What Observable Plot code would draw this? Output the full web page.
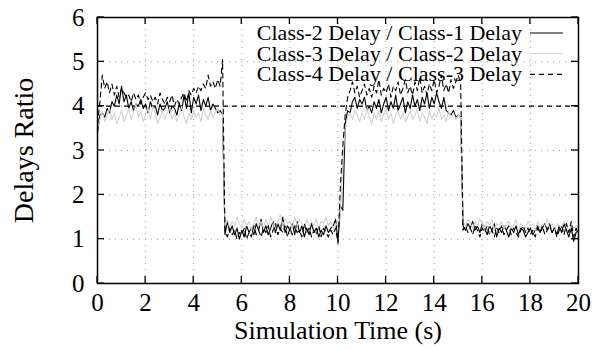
<!DOCTYPE html>
<html><head><meta charset="utf-8">
<script src="https://cdn.jsdelivr.net/npm/d3@7"></script>
<script src="https://cdn.jsdelivr.net/npm/@observablehq/plot@0.6"></script>
<style>body{margin:0;background:#fff;} svg{display:block;}</style>
</head><body><div id="chart"></div>
<script>
const xTicks = [0, 2, 4, 6, 8, 10, 12, 14, 16, 18, 20];
const yTicks = [0, 1, 2, 3, 4, 5, 6];
const xLabel = "Simulation Time (s)";
const yLabel = "Delays Ratio";
const seriesNames = ["Class-2 Delay / Class-1 Delay", "Class-3 Delay / Class-2 Delay", "Class-4 Delay / Class-3 Delay"];
const refLevel = [4];
const timeStep = 0.1;
const time = Array.from({length: 201}, (_, i) => +(i * timeStep).toFixed(1));

const class2over1 = [
3.40,3.80,3.85,3.75,3.95,3.85,4.10,4.00,4.25,4.05,
4.45,4.10,4.25,3.95,4.10,3.90,4.05,4.00,4.15,3.95,
4.05,3.85,4.10,3.95,4.00,3.80,4.05,3.90,3.95,4.10,
3.85,4.00,3.95,3.80,4.05,3.90,4.25,3.95,4.30,3.85,
4.20,4.05,4.25,3.90,4.15,4.00,4.20,3.90,4.05,3.95,
3.85,3.90,3.80,1.10,1.40,1.15,1.30,1.10,1.25,1.00,
1.20,1.05,1.30,1.15,1.25,1.10,1.35,1.20,1.45,1.15,
1.30,1.10,1.25,1.40,1.15,1.35,1.20,1.50,1.15,1.30,
1.20,1.35,1.10,1.40,1.15,1.30,1.05,1.25,1.10,1.35,
1.15,1.25,1.05,1.20,1.10,1.30,1.15,1.25,1.30,1.45,
0.95,1.75,1.65,3.60,3.90,3.85,4.10,4.20,3.95,4.15,
4.05,4.20,3.90,4.00,3.85,4.10,3.95,4.15,3.85,4.05,
4.20,3.90,4.10,3.95,4.25,3.90,4.05,4.20,3.85,4.10,
3.95,4.25,4.00,4.15,3.90,4.20,4.05,4.30,3.95,4.20,
4.05,4.30,4.10,3.95,4.20,3.90,3.85,3.80,3.90,3.75,
3.80,3.75,1.30,1.20,1.35,1.25,1.40,1.20,1.30,1.15,
1.35,1.25,1.10,1.30,1.20,1.35,1.05,1.25,1.15,1.30,
1.20,1.05,1.25,1.15,1.30,1.10,1.25,1.20,1.05,1.15,
1.25,1.10,1.20,1.30,1.15,1.25,1.35,1.20,1.30,1.15,
1.25,1.10,1.30,1.15,1.35,1.20,1.05,1.25,0.95,1.15,
1.20];

const class3over2 = [
3.50,3.70,3.90,3.65,3.80,3.95,3.70,3.85,3.60,3.75,
3.90,3.65,3.80,3.95,3.70,3.85,4.05,3.75,3.90,3.65,
3.80,3.95,3.70,4.00,3.85,3.60,3.75,3.90,3.70,3.85,
3.95,3.70,3.85,3.65,3.80,4.00,3.75,3.60,3.85,3.70,
3.90,3.75,3.85,3.65,3.95,3.80,3.70,3.90,3.75,3.85,
3.95,3.80,3.85,1.30,1.45,1.25,1.40,1.30,1.50,1.35,
1.25,1.45,1.30,1.40,1.20,1.35,1.50,1.30,1.40,1.25,
1.45,1.30,1.50,1.35,1.25,1.40,1.55,1.30,1.45,1.35,
1.40,1.25,1.50,1.30,1.45,1.35,1.25,1.45,1.30,1.40,
1.30,1.45,1.25,1.40,1.35,1.50,1.30,1.40,1.25,1.35,
1.30,1.60,2.80,3.50,3.75,3.85,3.70,3.90,3.80,3.65,
3.85,3.70,3.95,3.75,3.60,3.85,3.70,3.90,3.65,3.80,
3.95,3.70,3.85,3.60,3.80,3.90,3.70,3.85,3.65,3.75,
3.90,3.70,3.80,3.95,3.65,3.85,3.75,3.60,3.90,3.70,
3.85,3.75,3.95,3.70,3.80,3.65,3.90,3.75,3.85,3.70,
3.80,3.75,1.40,1.30,1.45,1.35,1.25,1.40,1.30,1.45,
1.35,1.25,1.40,1.30,1.45,1.20,1.35,1.30,1.40,1.25,
1.35,1.40,1.25,1.30,1.45,1.20,1.35,1.30,1.25,1.40,
1.30,1.35,1.20,1.40,1.25,1.35,1.30,1.45,1.25,1.35,
1.20,1.35,1.30,1.25,1.40,1.30,1.20,1.35,1.25,1.30,
1.25];

const class4over3 = [
3.60,4.10,4.70,4.40,4.55,4.30,4.50,4.25,4.45,4.20,
4.40,4.30,4.20,4.25,4.10,4.30,4.15,4.25,4.05,4.20,
4.30,4.15,4.25,4.10,4.20,4.05,4.30,4.15,4.05,4.20,
4.10,4.25,4.00,4.15,4.05,4.20,4.30,4.10,4.35,4.25,
4.40,4.30,4.45,4.35,4.50,4.40,4.70,4.45,4.55,4.40,
4.60,4.45,5.05,1.20,1.05,1.25,1.10,1.20,1.00,1.15,
1.10,1.25,1.00,1.15,1.05,1.30,1.10,1.20,1.05,1.25,
1.15,1.30,1.05,1.20,1.35,1.10,1.25,1.15,1.30,1.05,
1.25,1.10,1.30,1.15,1.20,1.05,1.35,1.15,1.25,1.05,
1.20,1.10,1.30,1.05,1.25,1.15,1.05,1.20,1.10,1.25,
0.90,2.20,3.10,3.80,4.20,4.35,4.55,4.30,4.45,4.20,
4.35,4.50,4.25,4.40,4.20,4.45,4.30,4.60,4.25,4.40,
4.30,4.50,4.20,4.45,4.35,4.55,4.25,4.40,4.60,4.30,
4.45,4.25,4.55,4.35,4.65,4.30,4.45,4.25,4.50,4.35,
4.60,4.30,4.45,4.70,4.35,4.50,4.30,4.60,4.40,4.55,
4.70,4.50,1.20,1.30,1.15,1.25,1.10,1.30,1.20,1.05,
1.25,1.15,1.30,1.10,1.20,1.05,1.25,1.15,1.30,1.10,
1.20,1.30,1.10,1.25,1.15,1.05,1.20,1.30,1.15,1.25,
1.10,1.20,1.05,1.25,1.15,1.30,1.10,1.20,1.35,1.15,
1.25,1.05,1.20,1.30,1.10,1.35,1.15,1.40,1.05,1.25,
1.10];

const styles = [
  {stroke: "#000", strokeWidth: 1.1, dash: null},
  {stroke: "#d2d2d2", strokeWidth: 1.1, dash: null},
  {stroke: "#000", strokeWidth: 1.1, dash: "5,4"}
];
const seriesValues = [class2over1, class3over2, class4over3];

const lineMarks = seriesValues.map((vals, k) => Plot.line(vals, {
  x: (d, i) => time[i], y: d => d,
  stroke: styles[k].stroke, strokeWidth: styles[k].strokeWidth,
  strokeDasharray: styles[k].dash
}));

const serif = "'Liberation Serif', 'Times New Roman', Times, serif";

const chart = Plot.plot({
  width: 602, height: 349,
  marginLeft: 97, marginRight: 24, marginTop: 17, marginBottom: 66,
  style: {fontFamily: serif, fontSize: "25px", color: "#000", background: "#fff"},
  x: {domain: [0, 20], ticks: xTicks},
  y: {domain: [0, 6], ticks: yTicks},
  marks: [
    Plot.gridX(xTicks, {stroke: "#999", strokeOpacity: 1, strokeDasharray: "1,5", strokeWidth: 1}),
    Plot.gridY(yTicks, {stroke: "#999", strokeOpacity: 1, strokeDasharray: "1,5", strokeWidth: 1}),
    Plot.ruleY(refLevel, {stroke: "#000", strokeDasharray: "5,4", strokeWidth: 1.1}),
    ...lineMarks,
    Plot.axisX(xTicks, {tickSize: 0, tickPadding: 10, label: null, fontSize: 25, fontFamily: serif}),
    Plot.axisY(yTicks, {tickSize: 0, tickPadding: 13, label: null, fontSize: 25, fontFamily: serif}),
    Plot.frame({stroke: "#000", strokeWidth: 1.5}),
    Plot.text([xLabel], {frameAnchor: "bottom", dy: 47, textAnchor: "middle", lineAnchor: "middle", fontSize: 26, fontFamily: serif}),
    Plot.text([yLabel], {frameAnchor: "left", dx: -73, rotate: -90, textAnchor: "middle", lineAnchor: "middle", fontSize: 28, fontFamily: serif})
  ]
});

const svg = d3.select(chart);
const sx = chart.scale("x"), sy = chart.scale("y");
const yBottom = sy.apply(0), yTop = sy.apply(6), xLeft = sx.apply(0), xRight = sx.apply(20);
const tickLen = 7;
const tg = svg.append("g").attr("stroke", "#000").attr("stroke-width", 1.3);
xTicks.forEach(v => {
  const px = sx.apply(v);
  tg.append("line").attr("x1", px).attr("x2", px).attr("y1", yBottom).attr("y2", yBottom - tickLen);
  tg.append("line").attr("x1", px).attr("x2", px).attr("y1", yTop).attr("y2", yTop + tickLen);
});
yTicks.forEach(v => {
  const py = sy.apply(v);
  tg.append("line").attr("x1", xLeft).attr("x2", xLeft + tickLen).attr("y1", py).attr("y2", py);
  tg.append("line").attr("x1", xRight).attr("x2", xRight - tickLen).attr("y1", py).attr("y2", py);
});

// legend (top-right, inside frame)
const lg = svg.append("g").attr("font-family", serif).attr("font-size", 22);
seriesNames.forEach((name, k) => {
  const cy = 33 + k * 20.7;
  lg.append("text").attr("x", 522).attr("y", cy).attr("dy", "0.32em").attr("text-anchor", "end").attr("fill", "#000").text(name);
  lg.append("line").attr("x1", 530).attr("x2", 563).attr("y1", cy).attr("y2", cy)
    .attr("stroke", styles[k].stroke).attr("stroke-width", styles[k].strokeWidth)
    .attr("stroke-dasharray", styles[k].dash);
});

document.getElementById("chart").append(chart);
</script>
</body></html>
